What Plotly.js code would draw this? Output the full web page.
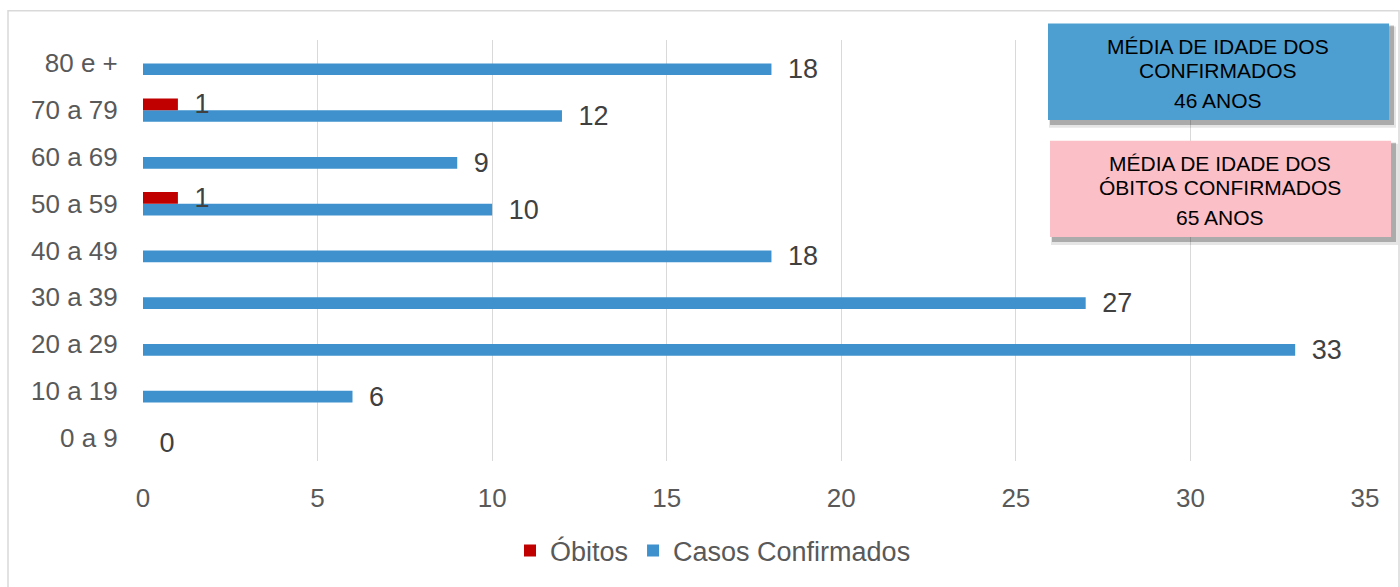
<!DOCTYPE html>
<html>
<head>
<meta charset="utf-8">
<script src="https://cdn.plot.ly/plotly-3.0.1.min.js"></script>
<style>html,body{margin:0;padding:0;background:#fff;}#chart{width:1400px;height:587px;}</style>
</head>
<body>
<div id="chart"></div>
<script>
const categories = ['0 a 9','10 a 19','20 a 29','30 a 39','40 a 49','50 a 59','60 a 69','70 a 79','80 e +'];
const casosConfirmados = [0, 6, 33, 27, 18, 10, 9, 12, 18];
const obitos = [0, 0, 0, 0, 0, 1, 0, 1, 0];
const xTicks = [0, 5, 10, 15, 20, 25, 30, 35];
const boxConfirmados = ['MÉDIA DE IDADE DOS', 'CONFIRMADOS', '46 ANOS'];
const boxObitos = ['MÉDIA DE IDADE DOS', 'ÓBITOS CONFIRMADOS', '65 ANOS'];

const FONT = '"Liberation Sans", Arial, sans-serif';
const NB = '\u2002';

const traces = [
  {
    type: 'bar', orientation: 'h', name: 'Casos Confirmados',
    y: categories, x: casosConfirmados,
    marker: {color: '#3E91CD'},
    text: casosConfirmados.map(v => NB + v),
    textposition: 'outside', constraintext: 'none', cliponaxis: false,
    textfont: {family: FONT, size: 27, color: '#404040'},
    hoverinfo: 'x+name'
  },
  {
    type: 'bar', orientation: 'h', name: 'Óbitos',
    y: categories, x: obitos,
    marker: {color: '#C00000'},
    text: obitos.map(v => v > 0 ? NB + v : ''),
    textposition: 'outside', constraintext: 'none', cliponaxis: false,
    textfont: {family: FONT, size: 27, color: '#404040'},
    hoverinfo: 'x+name'
  }
];

const L = 143, R = 1365, T = 39.5, B = 463.5;
const px = x => (x - L) / (R - L);
const py = y => (B - y) / (B - T);

function box(x0, y0, x1, y1, color) {
  return [
    {type:'rect', xref:'paper', yref:'paper', x0:px(x0+1), x1:px(x1+7), y0:py(y1+8), y1:py(y0+3), fillcolor:'rgba(0,0,0,0.10)', line:{width:0}, layer:'above'},
    {type:'rect', xref:'paper', yref:'paper', x0:px(x0+2), x1:px(x1+5), y0:py(y1+5), y1:py(y0+2), fillcolor:'rgba(0,0,0,0.25)', line:{width:0}, layer:'above'},
    {type:'rect', xref:'paper', yref:'paper', x0:px(x0), x1:px(x1), y0:py(y1), y1:py(y0), fillcolor:color, line:{width:0}, layer:'above'}
  ];
}

const shapes = [
  {type:'rect', xref:'paper', yref:'paper', x0:px(8), x1:px(1399), y0:py(600), y1:py(10), fillcolor:'rgba(0,0,0,0)', line:{color:'#D9D9D9', width:1.5}, layer:'below'},
  ...box(1048, 23, 1389, 120, '#4E9FD1'),
  ...box(1050, 141, 1391, 238, '#FBBFC7')
];

function boxText(lines, cx, ys) {
  return lines.map((t, i) => ({
    xref:'paper', yref:'paper', x:px(cx), y:py(ys[i]), xanchor:'center', yanchor:'middle',
    text:t, showarrow:false, font:{family:FONT, size:21, color:'#000000'}
  }));
}

const annotations = [
  ...boxText(boxConfirmados, 1218, [46, 70, 100]),
  ...boxText(boxObitos, 1220, [164, 188, 218])
];

const layout = {
  width: 1400, height: 587,
  margin: {l: L, r: 1400 - R, t: T, b: 587 - B, pad: 0},
  paper_bgcolor: '#ffffff', plot_bgcolor: '#ffffff',
  barmode: 'group', bargap: 0.5, bargroupgap: 0,
  showlegend: true,
  legend: {orientation:'h', traceorder:'reversed', x:px(713), xanchor:'center', y:py(554), yanchor:'middle',
           font:{family:FONT, size:27, color:'#595959'}, itemwidth:30},
  xaxis: {
    range: [0, 35], tickvals: xTicks, ticktext: xTicks.map(String),
    showgrid: true, gridcolor:'#D9D9D9', gridwidth:1, zeroline:false, showline:false,
    ticks:'outside', ticklen:14, tickcolor:'rgba(0,0,0,0)',
    tickfont:{family:FONT, size:26, color:'#595959'}, fixedrange:true
  },
  yaxis: {
    type:'category', categoryorder:'array', categoryarray: categories,
    range:[-0.5, categories.length - 0.5],
    showgrid:false, zeroline:false, showline:false,
    ticks:'outside', ticklen:19, tickcolor:'rgba(0,0,0,0)',
    tickfont:{family:FONT, size:26, color:'#595959'}, fixedrange:true
  },
  shapes: shapes,
  annotations: annotations
};

Plotly.newPlot('chart', traces, layout, {displayModeBar:false, staticPlot:true});
</script>
</body>
</html>
